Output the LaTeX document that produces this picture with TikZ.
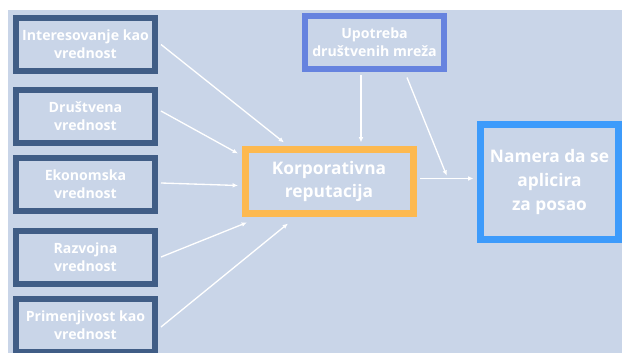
\documentclass[tikz,border=0pt]{standalone}
\usepackage{fontspec}
\setmainfont{Open Sans}[BoldFont={Open Sans Bold}]
\usetikzlibrary{arrows.meta,calc}
\definecolor{pozadina}{HTML}{C9D5E8}
\definecolor{tamnoplava}{HTML}{405D86}
\definecolor{srednjeplava}{HTML}{6683DF}
\definecolor{narandzasta}{HTML}{FDB94F}
\definecolor{svetloplava}{HTML}{3D9BFB}
\tikzset{
	kutija/.style={draw=tamnoplava,line width=4.5pt,minimum width=104.25pt,minimum height=39.75pt,
		inner sep=0pt,align=center,text=white,font=\bfseries\fontsize{10.6}{13.5}\selectfont},
	velika/.style={kutija,line width=5.25pt,font=\bfseries\fontsize{13}{17.8}\selectfont},
	strelica/.style={white,line width=1pt,-{Latex[length=4pt,width=3.5pt]}}
}
\begin{document}
\begin{tikzpicture}[x={(0.75pt,0)},y={(0,-0.75pt)}]
		\useasboundingbox (0,0) rectangle (622,353);
		\fill[pozadina] (8,10) rectangle (622,353);
		% levo
		\node[kutija] (interes) at (85.5,44.5) {Interesovanje kao\\vrednost};
		\node[kutija] (drustvena) at (85.5,116.5) {Društvena\\vrednost};
		\node[kutija] (ekonomska) at (85.5,184.5) {Ekonomska\\vrednost};
		\node[kutija] (razvojna) at (85.5,257) {Razvojna\\vrednost};
		\node[kutija] (primena) at (85.5,325) {Primenjivost kao\\vrednost};
		% gore i sredina
		\node[kutija,draw=srednjeplava] (mreze) at (374.5,42.5) {Upotreba\\društvenih mreža};
		\node[velika,draw=narandzasta,minimum width=126pt,minimum height=48pt] (reputacija) at (329,181.5) {Korporativna\\reputacija};
		\node[velika,draw=svetloplava,minimum width=103.5pt,minimum height=85.5pt] (namera) at (549.5,182) {Namera da se\\aplicira\\za posao};
		
		\draw[strelica] ($(interes.east)+(3,0)$) -- ($(reputacija.north west)+(42.5,-3.5)$);
		\draw[strelica] ($(drustvena.east)+(3,-5.5)$) -- ($(reputacija.north west)+(-3.5,7.5)$);
		\draw[strelica] ($(ekonomska.east)+(3,-1.5)$) -- ($(reputacija.west)+(-3.5,4)$);
		\draw[strelica] ($(razvojna.east)+(3,0)$) -- ($(reputacija.south west)+(5.5,5.5)$);
		\draw[strelica] ($(primena.east)+(3,2)$) -- ($(reputacija.south west)+(46.5,6.5)$);
		\draw[strelica] ($(mreze.south)+(-13.5,3)$) -- ($(reputacija.north)+(32,-3.5)$);
		\draw[strelica] ($(reputacija.east)+(3.5,-3)$) -- ($(namera.west)+(-3.5,-3.5)$);
		\draw[strelica] ($(mreze.south)+(32.5,5.5)$) -- ($(reputacija.east)!0.5!(namera.west)+(0,-6)$);
		
	\end{tikzpicture}
\end{document}
